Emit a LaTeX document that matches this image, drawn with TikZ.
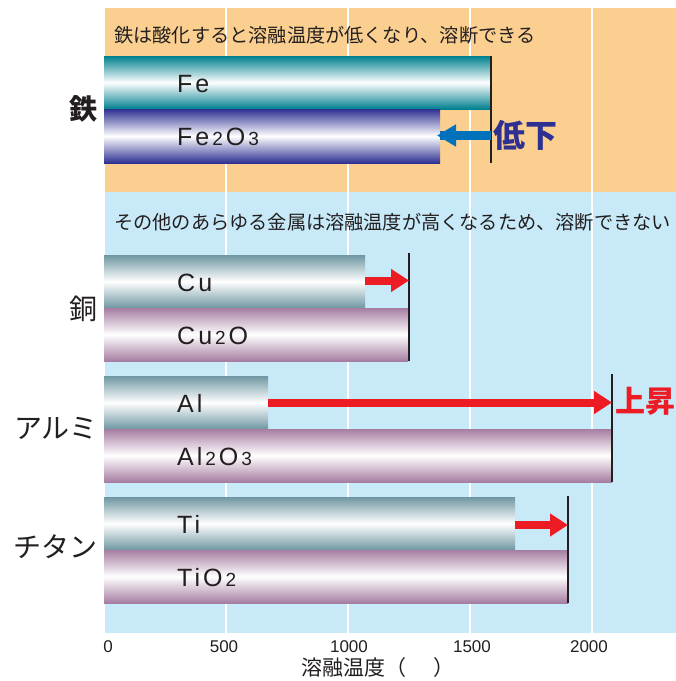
\documentclass[tikz,border=0pt]{standalone}
\usepackage{fontspec}
\setmainfont{Liberation Sans}
\newfontfamily\jp{Noto Sans CJK JP}
\newfontfamily\lsp[LetterSpace=12]{Liberation Sans}
\usetikzlibrary{arrows.meta}
\definecolor{orangebg}{HTML}{FBCF8F}
\definecolor{bluebg}{HTML}{C7E9F8}
\definecolor{feteal}{HTML}{00808F}
\definecolor{fenavy}{HTML}{2E3192}
\definecolor{metal}{HTML}{6F97A2}
\definecolor{oxide}{HTML}{A67DA1}
\definecolor{ink}{HTML}{231F20}
\definecolor{arrred}{HTML}{ED1C24}
\definecolor{arrblue}{HTML}{0072BC}
\definecolor{lowblue}{HTML}{2E3192}
\newcommand\subnum[1]{\kern3pt{\fontsize{19}{19}\selectfont #1}\kern3pt}
\begin{document}
\begin{tikzpicture}[x=1pt,y=-1pt,
  bar/.style={rectangle, inner sep=0pt, outer sep=0pt, anchor=north west, minimum height=53pt},
  febar/.style={bar, top color=feteal, bottom color=feteal, middle color=white},
  fe2bar/.style={bar, top color=fenavy, bottom color=fenavy, middle color=white},
  metalbar/.style={bar, top color=metal, bottom color=metal, middle color=white},
  oxidebar/.style={bar, top color=oxide, bottom color=oxide, middle color=white},
  barlbl/.style={anchor=base west, inner sep=0pt, text=ink, font=\lsp\fontsize{25}{25}\selectfont},
  metname/.style={anchor=east, inner sep=0pt, text=ink, font=\jp\fontsize{28}{28}\selectfont},
  note/.style={anchor=west, inner sep=0pt, text=ink, font=\jp\fontsize{19.2}{19.2}\selectfont},
  tick/.style={inner sep=0pt, text=ink, font=\fontsize{17}{17}\selectfont},
  endline/.style={draw=ink, line width=1.5pt},
  uparrow/.style={draw=arrred, line width=8pt, -{Triangle[length=18pt,width=22pt]}},
  downarrow/.style={draw=arrblue, line width=9pt, -{Triangle[length=19pt,width=21pt]}},
  grid/.style={draw=white, line width=2pt}
]
\useasboundingbox (0,0) rectangle (676,681);
% panels
\fill[orangebg] (105,8) rectangle (676,192);
\fill[bluebg] (105,192) rectangle (676,633);
% grid lines
\foreach \gx in {226,348,470,592} \draw[grid] (\gx,8) -- (\gx,633);
% notes
\node[note] (note1) at (114,35) {鉄は酸化すると溶融温度が低くなり、溶断できる};
\node[note] (note2) at (114,222) {その他のあらゆる金属は溶融温度が高くなるため、溶断できない};
% bars
\node[febar, minimum width=387pt] (fe) at (104,56) {};
\node[fe2bar, minimum width=336pt, minimum height=54pt] (fe2o3) at (104,109) {};
\node[metalbar, minimum width=261pt] (cu) at (104,255) {};
\node[oxidebar, minimum width=304pt] (cu2o) at (104,308) {};
\node[metalbar, minimum width=164pt] (al) at (104,376) {};
\node[oxidebar, minimum width=508pt] (al2o3) at (104,429) {};
\node[metalbar, minimum width=411pt] (ti) at (104,497) {};
\node[oxidebar, minimum width=464pt] (tio2) at (104,550) {};
% bar labels
\node[barlbl] (lfe) at ([xshift=73pt,yshift=-9.5pt]fe.west) {Fe};
\node[barlbl] (lfe2o3) at ([xshift=73pt,yshift=-9.5pt]fe2o3.west) {Fe\subnum{2}O\subnum{3}};
\node[barlbl] (lcu) at ([xshift=73pt,yshift=-9.5pt]cu.west) {Cu};
\node[barlbl] (lcu2o) at ([xshift=73pt,yshift=-9.5pt]cu2o.west) {Cu\subnum{2}O};
\node[barlbl] (lal) at ([xshift=73pt,yshift=-9.5pt]al.west) {Al};
\node[barlbl] (lal2o3) at ([xshift=73pt,yshift=-9.5pt]al2o3.west) {Al\subnum{2}O\subnum{3}};
\node[barlbl] (lti) at ([xshift=73pt,yshift=-9.5pt]ti.west) {Ti};
\node[barlbl] (ltio2) at ([xshift=73pt,yshift=-9.5pt]tio2.west) {TiO\subnum{2}};
% end lines
\coordinate (fetop) at (491,56);
\coordinate (cutop) at (409,253);
\coordinate (altop) at (612,374);
\coordinate (titop) at (568,496);
\draw[endline] (fetop) -- (fetop |- fe2o3.south);
\draw[endline] (cutop) -- (cutop |- cu2o.south);
\draw[endline] (altop) -- (altop |- al2o3.south);
\draw[endline] (titop) -- (titop |- tio2.south);
% arrows
\coordinate (fearrow) at (491,135.5);
\draw[downarrow] (fearrow) -- (fearrow -| fe2o3.east) -- ++(-3,0);
\draw[uparrow] ([yshift=1pt]cu.east) -- ([yshift=1pt]cutop |- cu.east);
\draw[uparrow] (al.east) -- (altop |- al.east);
\draw[uparrow] ([yshift=-1.5pt]ti.east) -- ([yshift=-1.5pt]titop |- ti.east);
% change labels
\node[anchor=west, inner sep=0pt, text=lowblue, font=\jp\bfseries\fontsize{32}{32}\selectfont] (low) at (493,135) {低下};
\node[anchor=west, inner sep=0pt, text=arrred, font=\jp\bfseries\fontsize{30}{30}\selectfont] (rise) at (615,401) {上昇};
% metal names
\node[metname, font=\jp\bfseries\fontsize{28}{28}\selectfont] (nfe) at (98,109) {鉄};
\node[metname] (ncu) at (98,309) {銅};
\node[metname] (nal) at (98,428) {アルミ};
\node[metname] (nti) at (98,547) {チタン};
% axis
\node[tick] (t0) at (108,647) {0};
\node[tick] (t500) at (224,647) {500};
\node[tick] (t1000) at (349,647) {1000};
\node[tick] (t1500) at (472,647) {1500};
\node[tick] (t2000) at (589,647) {2000};
\node[anchor=west, inner sep=0pt, text=ink, font=\jp\fontsize{21}{21}\selectfont] (axtitle) at (301,668) {溶融温度（\hspace{1.3em}）};
\end{tikzpicture}
\end{document}
